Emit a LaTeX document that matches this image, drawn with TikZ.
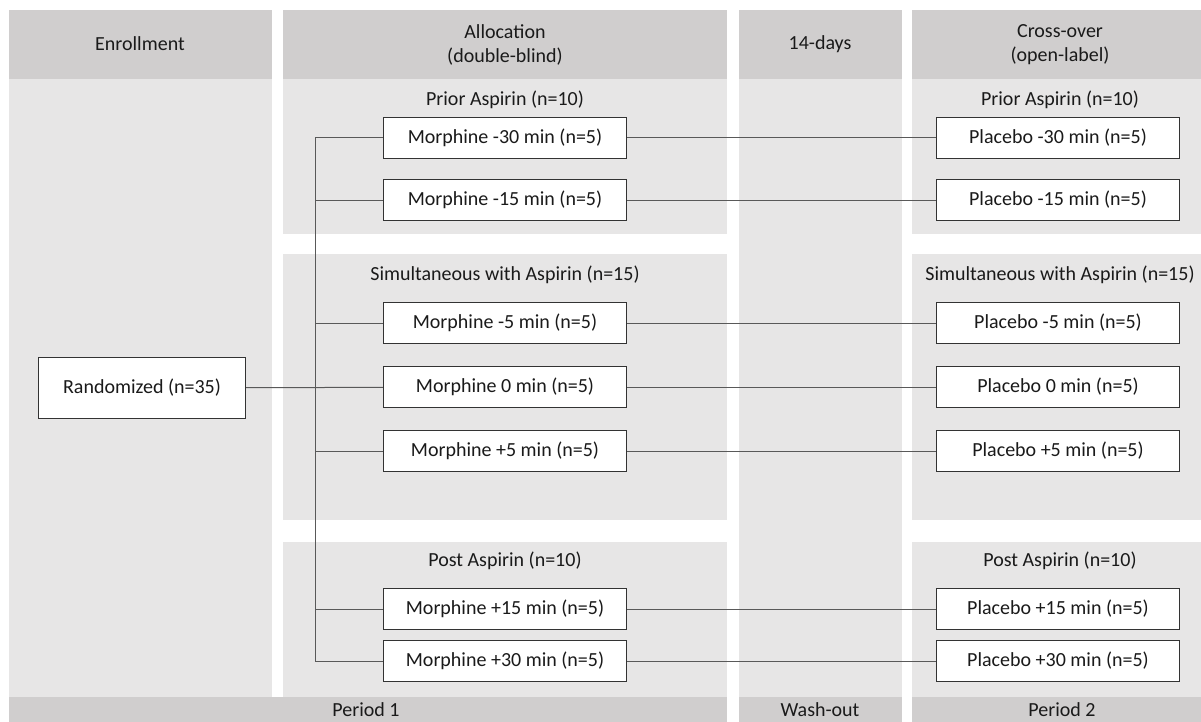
\documentclass[tikz,border=0pt]{standalone}
\usepackage{fontspec}
\setmainfont{Carlito}
\usepackage{tikz}
\usetikzlibrary{positioning}
\usepackage{xcolor}
\definecolor{hdrgray}{HTML}{D0CECE}
\definecolor{bodygray}{HTML}{E7E6E6}
\definecolor{linkgray}{HTML}{595959}
\definecolor{txtgray}{HTML}{1A1A1A}

\begin{document}
\begin{tikzpicture}[x=1pt, y=-1pt,
    every node/.style={font=\fontsize{20}{24}\selectfont, text=txtgray},
    armbox/.style={draw=black!80, line width=1.1pt, fill=white,
      minimum width=243pt, minimum height=41pt, inner sep=0pt},
    link/.style={draw=linkgray, line width=1pt}]
    \useasboundingbox (0,0) rectangle (1201,722);
    \def\ax{505}   % allocation column centre
    \def\cx{1060}  % cross-over column centre
    \def\tx{315}   % trunk

    % ── Column headers ──────────────────────────────────────────────────────
    \foreach \xl/\xr in {9/272, 283/727, 739/902, 912/1201} {
      \fill[hdrgray] (\xl,10) rectangle (\xr,79);
    }
    \node (enroll) at (140,44) {Enrollment};
    \node[align=center] (alloc) at (\ax,45) {Allocation\\(double-blind)};
    \node (days) at (820,44) {14-days};
    \node[align=center] (cross) at (\cx,45) {Cross-over\\(open-label)};

    % ── Column bodies ───────────────────────────────────────────────────────
    \fill[bodygray] (9,79) rectangle (272,697);
    \fill[bodygray] (739,79) rectangle (902,697);
    \foreach \yt/\yb in {79/234, 254/520, 542/697} {
      \fill[bodygray] (283,\yt) rectangle (727,\yb);
      \fill[bodygray] (912,\yt) rectangle (1201,\yb);
    }
    \foreach \yy/\grp/\n in {100/Prior Aspirin/10, 275/Simultaneous with Aspirin/15, 561/Post Aspirin/10} {
      \node (grpA\n\yy) at (\ax,\yy) {\grp{} (n=\n)};
      \node (grpB\n\yy) at (\cx,\yy) {\grp{} (n=\n)};
    }

    % ── Period bands ────────────────────────────────────────────────────────
    \fill[hdrgray] (9,697) rectangle (727,722);
    \fill[hdrgray] (739,697) rectangle (902,722);
    \fill[hdrgray] (912,697) rectangle (1201,722);
    \node (per1) at (366,710) {Period 1};
    \node (wash) at (820,710) {Wash-out};
    \node (per2) at (1062,710) {Period 2};

    % ── Arms ────────────────────────────────────────────────────────────────
    \node[armbox, minimum width=207pt, minimum height=61pt] (rand) at (142,388) {Randomized (n=35)};
    \foreach \i/\yy/\dose in {1/138/-30, 2/200/-15, 3/323/-5, 4/387/0, 5/451/+5, 6/609/+15, 7/661/+30} {
      \node[armbox] (mor\i) at (\ax,\yy) {Morphine \dose\ min (n=5)};
      \node[armbox] (pla\i) at (1058,\yy) {Placebo \dose\ min (n=5)};
      \coordinate (tap\i) at (\tx,\yy);
      \draw[link] (mor\i) -- (pla\i);
      \draw[link] (tap\i) -- (mor\i);
    }
    \draw[link] (tap1) -- (tap7);
    \draw[link] (rand) -- (mor4);
\end{tikzpicture}
\end{document}
